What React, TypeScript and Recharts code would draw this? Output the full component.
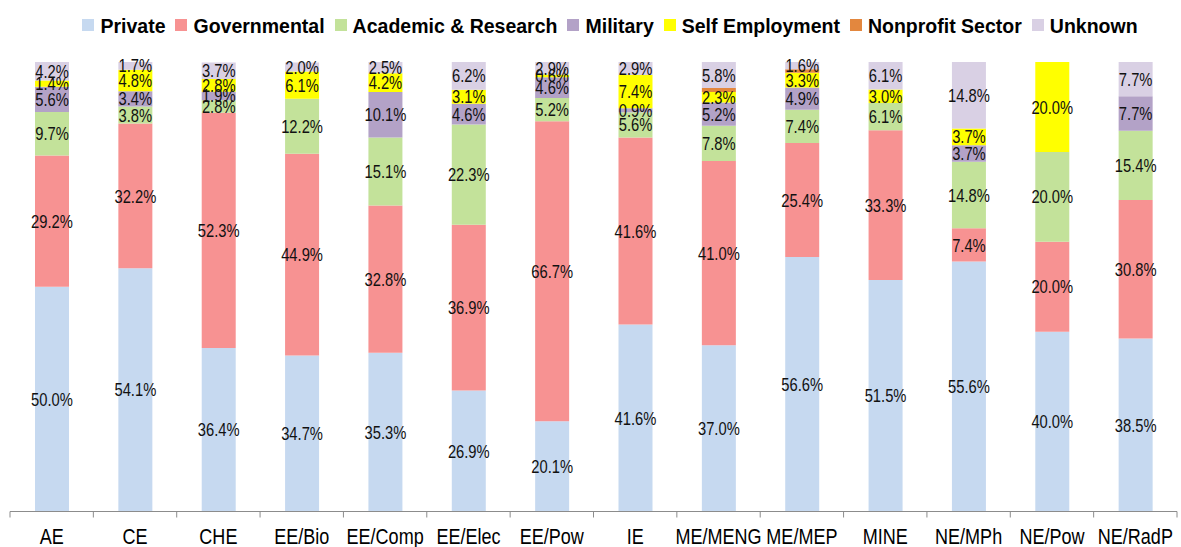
import React from 'react';
import { BarChart, Bar, XAxis, YAxis, Legend, LabelList } from 'recharts';

const categories = ['AE', 'CE', 'CHE', 'EE/Bio', 'EE/Comp', 'EE/Elec', 'EE/Pow', 'IE', 'ME/MENG', 'ME/MEP', 'MINE', 'NE/MPh', 'NE/Pow', 'NE/RadP'];
const privateVals = [50.0, 54.1, 36.4, 34.7, 35.3, 26.9, 20.1, 41.6, 37.0, 56.6, 51.5, 55.6, 40.0, 38.5];
const governmental = [29.2, 32.2, 52.3, 44.9, 32.8, 36.9, 66.7, 41.6, 41.0, 25.4, 33.3, 7.4, 20.0, 30.8];
const academic = [9.7, 3.8, 2.8, 12.2, 15.1, 22.3, 5.2, 5.6, 7.8, 7.4, 6.1, 14.8, 20.0, 15.4];
const military = [5.6, 3.4, 1.9, 0, 10.1, 4.6, 4.6, 0.9, 5.2, 4.9, 0, 3.7, 0, 7.7];
const selfEmployment = [1.4, 4.8, 2.8, 6.1, 4.2, 3.1, 0.6, 7.4, 2.3, 3.3, 3.0, 3.7, 20.0, 0];
const nonprofit = [0, 0, 0, 0, 0, 0, 0, 0, 0.9, 0.8, 0, 0, 0, 0];
const unknown = [4.2, 1.7, 3.7, 2.0, 2.5, 6.2, 2.9, 2.9, 5.8, 1.6, 6.1, 14.8, 0, 7.7];

const series = [
  { key: 'private', name: 'Private', color: '#C6D9F0', values: privateVals, label: true },
  { key: 'governmental', name: 'Governmental', color: '#F79292', values: governmental, label: true },
  { key: 'academic', name: 'Academic & Research', color: '#C3E29A', values: academic, label: true },
  { key: 'military', name: 'Military', color: '#B3A2C7', values: military, label: true },
  { key: 'self', name: 'Self Employment', color: '#FFFF00', values: selfEmployment, label: true },
  { key: 'nonprofit', name: 'Nonprofit Sector', color: '#E3873E', values: nonprofit, label: false },
  { key: 'unknown', name: 'Unknown', color: '#D9D0E4', values: unknown, label: true },
];

const data = categories.map((cat, i) => {
  const row: Record<string, any> = { cat };
  series.forEach((s) => {
    row[s.key] = s.values[i];
  });
  return row;
});

const FONT = "'Liberation Sans', Arial, sans-serif";
const SQUEEZE = 0.82;
const AXIS_COLOR = '#8C8C8C';

const renderLabel = (props: any) => {
  const { x, y, width, height, value } = props;
  if (!value) return null;
  const cx = Number(x) + Number(width) / 2;
  const cy = Number(y) + Number(height) / 2;
  return (
    <text
      transform={`translate(${cx},${cy}) scale(${SQUEEZE},1)`}
      x={0}
      y={0}
      textAnchor="middle"
      dominantBaseline="central"
      fontFamily={FONT}
      fontSize={18}
      fill="#111"
    >
      {Number(value).toFixed(1)}%
    </text>
  );
};

const CategoryTick = (props: any) => {
  const { x, y, payload, index, visibleTicksCount } = props;
  const half = payload && typeof payload.offset === 'number' && payload.offset > 0
    ? payload.offset
    : (1181 - 14) / categories.length / 2;
  const count = visibleTicksCount || categories.length;
  const isLast = index === count - 1;
  return (
    <g>
      <line x1={x - half} x2={x - half} y1={y} y2={y + 6} stroke={AXIS_COLOR} />
      {isLast && <line x1={x + half} x2={x + half} y1={y} y2={y + 6} stroke={AXIS_COLOR} />}
      <text
        transform={`translate(${x},${y + 16.5}) scale(${SQUEEZE},1)`}
        x={0}
        y={0}
        textAnchor="middle"
        dy="0.71em"
        fontFamily={FONT}
        fontSize={22}
        fill="#000"
      >
        {payload.value}
      </text>
    </g>
  );
};

const renderLegend = () => (
  <div
    style={{
      display: 'flex',
      justifyContent: 'center',
      alignItems: 'center',
      fontFamily: FONT,
      fontWeight: 'bold',
      fontSize: 19.5,
      lineHeight: '24px',
      color: '#000',
      whiteSpace: 'nowrap',
      paddingLeft: 49,
    }}
  >
    {series.map((s) => (
      <span key={s.key} style={{ display: 'flex', alignItems: 'center', marginRight: 10 }}>
        <span
          style={{
            display: 'inline-block',
            width: 12,
            height: 12,
            background: s.color,
            marginRight: 6,
            position: 'relative',
            top: -1,
          }}
        />
        {s.name}
      </span>
    ))}
  </div>
);

export default function App() {
  return (
    <div style={{ position: 'absolute', left: 0, top: 0, width: 1181, height: 547, background: '#fff' }}>
      <BarChart
        width={1181}
        height={547}
        data={data}
        margin={{ top: 62, right: 4, bottom: 0, left: 10 }}
        barSize={34}
      >
        <XAxis
          xAxisId="cat"
          dataKey="cat"
          interval={0}
          axisLine={{ stroke: AXIS_COLOR }}
          tickLine={false}
          tickSize={0}
          tickMargin={0}
          height={35.5}
          tick={<CategoryTick />}
        />
        <YAxis hide domain={[0, 100]} allowDataOverflow />
        <Legend
          layout="horizontal"
          verticalAlign="middle"
          align="center"
          wrapperStyle={{ top: 13.5, left: 0, width: 1181 }}
          content={renderLegend}
        />
        {series.map((s) => (
          <Bar
            key={s.key}
            xAxisId="cat"
            dataKey={s.key}
            name={s.name}
            stackId="a"
            fill={s.color}
            isAnimationActive={false}
          >
            {s.label && <LabelList dataKey={s.key} content={renderLabel} />}
          </Bar>
        ))}
      </BarChart>
    </div>
  );
}
